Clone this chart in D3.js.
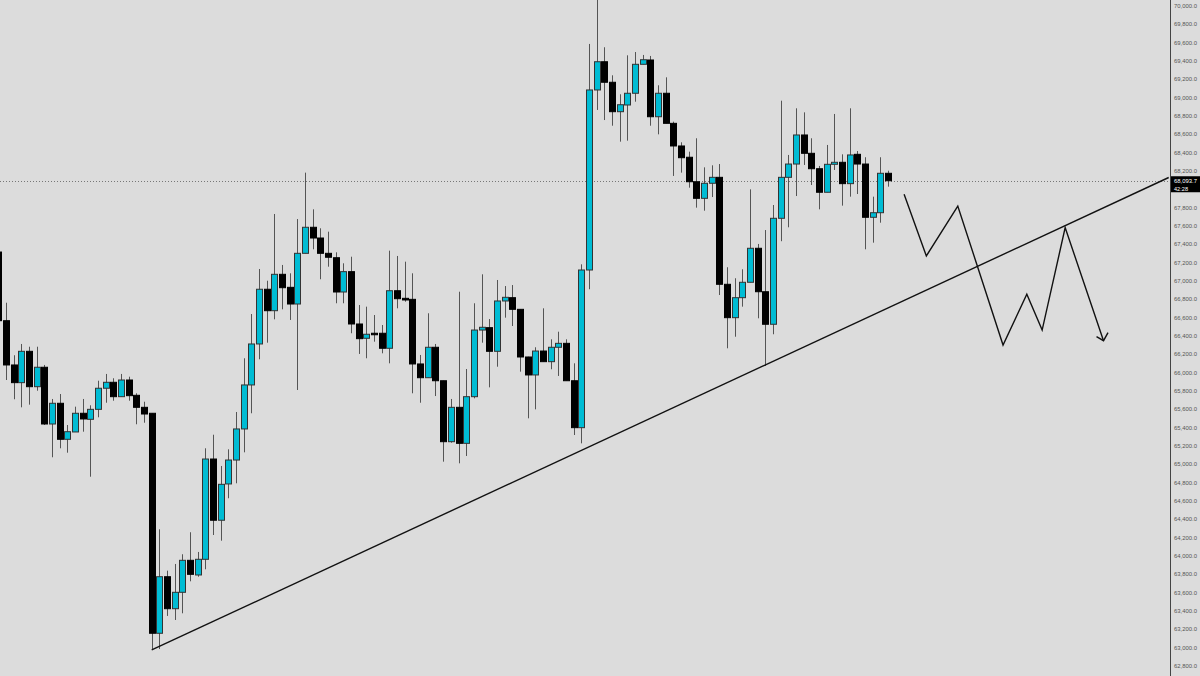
<!DOCTYPE html>
<html><head><meta charset="utf-8">
<script src="https://cdn.jsdelivr.net/npm/d3@7"></script>
<style>
html,body{margin:0;padding:0;background:#dcdcdc;overflow:hidden;}
svg{display:block;}
</style></head>
<body>
<script>
// candle index (first candle is partially off the left edge)
const candleIndex = d3.range(-1, 116);
const openVals = [67316,66567,66084,65891,66233,65847,66059,65440,65666,65273,65353,65557,65491,65600,65830,65895,65738,65920,65753,65622,
65557,63157,63774,63425,63604,63953,63793,63964,65058,64390,64786,65047,65386,65866,66313,66910,66676,67073,66931,66749,
67302,67586,67469,67302,67254,66880,67102,66531,66375,66430,66430,66266,66894,66811,66800,66095,65945,66277,65912,65247,
65622,65229,65738,66465,66491,66233,66782,66818,66691,66171,65975,66236,66120,66277,66320,65912,65400,67120,69084,69392,
69168,68847,68920,69048,69364,69411,68792,69048,68720,68473,68350,68083,67902,68066,68131,66964,66600,66818,66986,67357,
66883,66528,67684,68131,68276,68593,68393,68225,67968,68273,68295,68062,68382,68276,67695,67745,68175];
const highVals = [67330,66763,66190,66313,66283,66283,66084,65713,65767,65429,65629,65713,65644,65912,65986,65939,65986,65956,65775,65683,
65557,64291,63840,63913,64019,64259,64044,65175,65323,64982,65164,65571,66157,66640,67131,67003,67731,67175,67084,67676,
68182,67782,67575,67538,67313,67193,67265,66738,66720,66629,66520,67331,67273,67211,67084,66193,66648,66313,65912,65713,
66883,66040,66757,67073,66585,67011,66945,66956,66691,66174,66277,66702,66364,66447,66364,66102,67182,69586,70100,69550,
69244,69037,69462,69498,69466,69455,69135,69222,68738,68513,68411,68557,68240,68262,68276,67150,67030,67128,68000,67404,
67556,67829,68967,68375,68884,68840,68557,68255,68484,68822,68382,68884,68418,68350,67920,68350,68203];
const lowVals = [66567,65920,65710,65622,65651,65803,65429,65077,65175,65127,65353,65356,64865,65513,65672,65694,65738,65694,65437,65454,
62975,62985,63346,63302,63375,63724,63774,63855,64229,64167,64630,64793,65131,65557,66146,66327,66582,66691,66575,65811,
67302,67346,67019,67156,66757,66757,66430,66204,66157,66338,66211,66102,66702,66774,65775,65672,65945,65745,65029,65236,
65011,65091,65720,66327,65840,66065,66600,66509,66011,65502,65600,66120,66037,65964,65912,65320,65229,66910,68866,68756,
68694,68520,68531,68956,69364,68694,68600,68720,68146,68182,68018,67800,67767,67916,66847,66266,66392,66720,66986,66593,
66073,66419,67434,67586,67927,68266,68047,67782,67968,68211,67822,67920,67949,67346,67418,67636,68029];
const closeVals = [66567,66084,65891,66233,65847,66059,65440,65666,65273,65356,65557,65495,65600,65830,65895,65738,65920,65749,65622,65549,
63157,63774,63425,63604,63953,63800,63964,65058,64390,64782,65047,65386,65866,66313,66910,66676,67073,66927,66749,67302,
67586,67469,67302,67259,66880,67102,66531,66371,66419,66419,66266,66894,66807,66793,66095,65945,66277,65912,65247,65622,
65229,65738,66465,66495,66233,66782,66822,66691,66171,65975,66236,66120,66277,66320,65912,65400,67120,69084,69392,69168,
68847,68923,69048,69364,69414,68792,69048,68720,68473,68345,68083,67902,68066,68131,66964,66600,66818,66986,67357,66883,
66528,67684,68131,68276,68593,68393,68225,67968,68273,68295,68062,68375,68276,67695,67745,68175,68093.7];

// price axis ticks
const tickValues = d3.range(62800, 70001, 200);
const lastPrice = 68093.7;
const timerLabel = "42:28";

// drawings: [candle index, price]
const trendLine = [[19, 62975], [151.6, 68129]];
const projection = [[117.1, 67946], [120.0, 67273], [124.1, 67818], [130.0, 66302], [133.1, 66855], [135.1, 66465], [138.1, 67582], [143.1, 66349]];

const W = 1200, H = 676, axisX = 1170;
const x = d3.scaleLinear().domain([0, 115]).range([6, 888]);
const y = d3.scaleLinear().domain([62800, 70000]).range([666, 6]);

const svg = d3.select("body").append("svg").attr("width", W).attr("height", H);
svg.append("rect").attr("width", W).attr("height", H).attr("fill", "#dcdcdc");
svg.append("clipPath").attr("id", "plot").append("rect").attr("x", 0).attr("y", 0).attr("width", axisX).attr("height", H);
const plot = svg.append("g").attr("clip-path", "url(#plot)");

const candles = candleIndex.map((i, k) => ({i, o: openVals[k], h: highVals[k], l: lowVals[k], c: closeVals[k]}));

// last price dotted line
plot.append("line").attr("x1", 0).attr("x2", axisX).attr("y1", Math.round(y(lastPrice)) + 0.5).attr("y2", Math.round(y(lastPrice)) + 0.5)
  .attr("stroke", "#777").attr("stroke-width", 1).attr("stroke-dasharray", "1,2");

// wicks
plot.selectAll("line.wick").data(candles).join("line").attr("class", "wick")
  .attr("x1", d => Math.round(x(d.i)) + 0.5).attr("x2", d => Math.round(x(d.i)) + 0.5)
  .attr("y1", d => y(d.h)).attr("y2", d => y(d.l))
  .attr("stroke", "#555").attr("stroke-width", 1);

// bodies
const bw = 6;
plot.selectAll("rect.body").data(candles).join("rect").attr("class", "body")
  .attr("x", d => Math.round(x(d.i)) - bw / 2 + 0.5)
  .attr("width", bw)
  .attr("y", d => y(Math.max(d.o, d.c)))
  .attr("height", d => Math.max(1.5, Math.abs(y(d.o) - y(d.c))))
  .attr("fill", d => d.c >= d.o ? "#00bcd4" : "#000")
  .attr("stroke", d => d.c >= d.o ? "#333" : "#000")
  .attr("stroke-width", 1);

const line = d3.line().x(d => x(d[0])).y(d => y(d[1]));
plot.append("path").attr("d", line(trendLine)).attr("fill", "none").attr("stroke", "#111").attr("stroke-width", 1.4);
plot.append("path").attr("d", line(projection)).attr("fill", "none").attr("stroke", "#111").attr("stroke-width", 1.4).attr("stroke-linejoin", "miter");

// arrow head at end of projection
const tip = projection[projection.length - 1];
const tx = x(tip[0]), ty = y(tip[1]);
plot.append("path").attr("d", `M${tx - 7},${ty - 4}L${tx},${ty}L${tx + 4.5},${ty - 8}`)
  .attr("fill", "none").attr("stroke", "#111").attr("stroke-width", 1.4);

// right price axis
svg.append("line").attr("x1", axisX + 0.5).attr("x2", axisX + 0.5).attr("y1", 0).attr("y2", H).attr("stroke", "#444").attr("stroke-width", 1);
const fmt = d3.format(",.1f");
const labelFont = "Liberation Sans, Arial, sans-serif";
const tagY = y(lastPrice);
// labels hidden behind the last-price tag are not drawn
const visibleTicks = tickValues.filter(v => Math.abs(y(v) - (tagY + 3.5)) > 10);
svg.selectAll("text.tick").data(visibleTicks).join("text").attr("class", "tick")
  .attr("x", axisX + 4).attr("y", d => y(d)).attr("dy", "0.35em")
  .attr("font-family", labelFont).attr("font-size", 5.6).attr("fill", "#555")
  .attr("textLength", 23).attr("lengthAdjust", "spacingAndGlyphs")
  .text(d => fmt(d));

// last price tag
svg.append("rect").attr("x", axisX + 1).attr("y", tagY - 4.5).attr("width", W - axisX - 1).attr("height", 16).attr("fill", "#000");
svg.append("text").attr("x", axisX + 4).attr("y", tagY + 0.4).attr("dy", "0.35em")
  .attr("font-family", labelFont).attr("font-size", 5.6).attr("fill", "#fff")
  .attr("textLength", 23).attr("lengthAdjust", "spacingAndGlyphs").text(fmt(lastPrice));
svg.append("text").attr("x", axisX + 4).attr("y", tagY + 7.8).attr("dy", "0.35em")
  .attr("font-family", labelFont).attr("font-size", 5.6).attr("fill", "#fff").text(timerLabel);
</script>
</body></html>
